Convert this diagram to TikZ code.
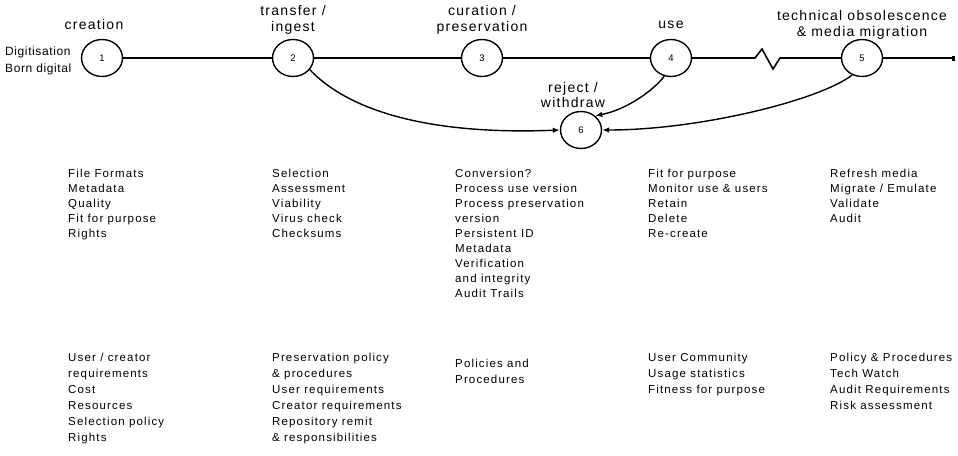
\documentclass[tikz,border=0pt]{standalone}
\usepackage{fontspec}
\setmainfont{Liberation Sans}
\newfontfamily\smfont[LetterSpace=10]{Liberation Sans}
\newfontfamily\lbfont[LetterSpace=9]{Liberation Sans}
\newfontfamily\mdfont[LetterSpace=5]{Liberation Sans}
\usetikzlibrary{arrows.meta,shapes.geometric}
\begin{document}
\begin{tikzpicture}[x=1pt,y=-1pt,
  stage/.style={ellipse, draw, line width=1.4pt, minimum width=41pt, minimum height=37pt, inner sep=0pt, font=\fontsize{9.5}{10}\selectfont},
  lbl/.style={align=center, inner sep=0pt, font=\lbfont\fontsize{14}{16}\selectfont},
  col/.style={align=left, anchor=north west, inner sep=0pt, font=\smfont\fontsize{11.5}{15}\selectfont},
  colb/.style={align=left, anchor=north west, inner sep=0pt, font=\smfont\fontsize{11.5}{16}\selectfont},
  flow/.style={line width=1.6pt},
  arr/.style={line width=1.4pt, -{Latex[length=7pt,width=5.5pt]}},
]
\useasboundingbox (0,0) rectangle (958,455);

% stages
\node[stage] (n1) at (102,58) {1};
\node[stage] (n2) at (293,58) {2};
\node[stage] (n3) at (482,58) {3};
\node[stage] (n4) at (671,58) {4};
\node[stage] (n5) at (862,58) {5};
\node[stage] (n6) at (581,130) {6};

% stage labels
\node[lbl] (l1) at (94,24) {creation};
\node[lbl] (l2) at (293,20) {transfer /\\ingest};
\node[lbl] (l3) at (482,20) {curation /\\preservation};
\node[lbl] (l4) at (671,25) {use};
\node[lbl] (l5) at (862,25) {technical obsolescence\\\& media migration};
\node[lbl, font=\lbfont\fontsize{14}{15}\selectfont] (l6) at (573,95) {reject /\\withdraw};
\node[align=left, anchor=west, inner sep=0pt, font=\mdfont\fontsize{12}{17}\selectfont] (src) at (5,61) {Digitisation\\Born digital};

% main line
\coordinate (z1) at (755,58);
\coordinate (z2) at (762,49);
\coordinate (z3) at (773,69);
\coordinate (z4) at (780,58);
\coordinate (end) at (955,58);
\draw[flow] (n1) -- (n2);
\draw[flow] (n2) -- (n3);
\draw[flow] (n3) -- (n4);
\draw[flow] (n4) -- (z1) -- (z2) -- (z3) -- (z4) -- (n5);
\draw[flow, -{Square[length=3pt,width=5pt]}] (n5) -- (end);

% reject arrows
\draw[arr] (n2.-35) .. controls (360,122) and (460,134) .. (n6.west);
\draw[arr] (n4.-110) .. controls (652,92) and (625,110) .. (n6.45);
\draw[arr] (n5.-120) .. controls (820,100) and (700,130) .. (n6.east);

% activity columns
\node[col] (a1) at (68,168.5) {File Formats\\Metadata\\Quality\\Fit for purpose\\Rights};
\node[col] (a2) at (272,168.5) {Selection\\Assessment\\Viability\\Virus check\\Checksums};
\node[col] (a3) at (455,168.5) {Conversion?\\Process use version\\Process preservation\\version\\Persistent ID\\Metadata\\Verification\\and integrity\\Audit Trails};
\node[col] (a4) at (648,168.5) {Fit for purpose\\Monitor use \& users\\Retain\\Delete\\Re-create};
\node[col] (a5) at (830,168.5) {Refresh media\\Migrate / Emulate\\Validate\\Audit};

% requirement columns
\node[colb] (b1) at (68,352.5) {User / creator\\requirements\\Cost\\Resources\\Selection policy\\Rights};
\node[colb] (b2) at (272,352.5) {Preservation policy\\\& procedures\\User requirements\\Creator requirements\\Repository remit\\\& responsibilities};
\node[colb] (b3) at (455,358.5) {Policies and\\Procedures};
\node[colb] (b4) at (648,352.5) {User Community\\Usage statistics\\Fitness for purpose};
\node[colb] (b5) at (830,352.5) {Policy \& Procedures\\Tech Watch\\Audit Requirements\\Risk assessment};
\end{tikzpicture}
\end{document}
